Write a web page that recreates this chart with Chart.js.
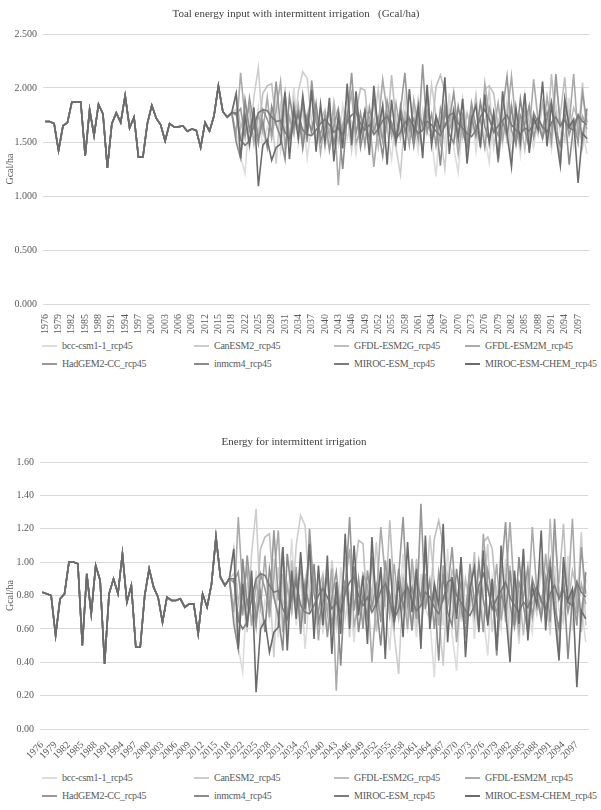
<!DOCTYPE html>
<html>
<head>
<meta charset="utf-8">
<script src="https://cdn.jsdelivr.net/npm/chart.js@4.4.1/dist/chart.umd.min.js"></script>
<style>
  body { margin: 0; background: #fff; width: 601px; height: 810px; position: relative; overflow: hidden; font-family: "Liberation Serif", serif; }
  .box { position: absolute; left: 0; width: 601px; }
  .legend { position: absolute; left: 0; width: 601px; height: 40px; font-size: 10px; color: #595959; letter-spacing: -0.25px; }
  .legend .item { position: absolute; white-space: nowrap; line-height: 12px; }
  .legend .item i { display: inline-block; width: 15px; height: 2px; vertical-align: middle; margin-right: 5px; margin-top: -2px; }
</style>
</head>
<body>
<div class="box" style="top:0;height:338px"><canvas id="totalChart"></canvas></div>
<div class="legend" id="totalLegend" style="top:340px"></div>
<div class="box" style="top:428px;height:337px"><canvas id="irrChart"></canvas></div>
<div class="legend" id="irrLegend" style="top:772px"></div>
<script>
// years: 1976-2018 observed, then 2020-2099 projections
const years = []
for (let y = 1976; y <= 2018; y++) years.push(String(y))
for (let y = 2020; y <= 2099; y++) years.push(String(y))

const models = ['bcc-csm1-1_rcp45', 'CanESM2_rcp45', 'GFDL-ESM2G_rcp45', 'GFDL-ESM2M_rcp45',
    'HadGEM2-CC_rcp45', 'inmcm4_rcp45', 'MIROC-ESM_rcp45', 'MIROC-ESM-CHEM_rcp45']
const colors = ['#dcdcdc', '#cdcdcd', '#bebebe', '#aaaaaa', '#989898', '#8a8a8a', '#7b7b7b', '#6b6b6b']

// start: total energy (Gcal/ha)
const histTotal = [1.69, 1.69, 1.67, 1.42, 1.65, 1.68, 1.87, 1.87, 1.87, 1.37,
    1.80, 1.56, 1.85, 1.76, 1.26, 1.67, 1.77, 1.68, 1.93, 1.63,
    1.73, 1.36, 1.36, 1.67, 1.84, 1.72, 1.66, 1.51, 1.67, 1.64,
    1.64, 1.65, 1.60, 1.62, 1.61, 1.45, 1.68, 1.60, 1.74, 2.02,
    1.78, 1.73, 1.77]
const bccTotal = [1.59, 1.36, 1.21, 1.75, 1.48, 1.82, 1.45, 1.64, 1.53, 1.89,
    1.42, 1.71, 1.57, 2.01, 1.49, 1.78, 1.35, 1.66, 1.55, 1.80,
    1.44, 1.73, 1.61, 1.47, 1.84, 1.53, 1.68, 1.39, 1.76, 1.58,
    1.51, 1.86, 1.45, 1.70, 1.60, 1.34, 1.75, 1.56, 1.92, 1.48,
    1.66, 1.42, 1.80, 1.59, 1.53, 1.18, 1.72, 1.49, 1.95, 1.44,
    1.22, 1.69, 1.57, 1.83, 1.41, 1.74, 1.55, 1.31, 1.78, 1.63,
    1.47, 1.89, 1.52, 1.70, 1.38, 1.81, 1.60, 1.45, 1.76, 1.54,
    1.67, 1.43, 1.85, 1.58, 1.50, 1.91, 1.46, 1.73, 1.61, 1.39]
const canTotal = [1.80, 1.53, 1.68, 1.45, 1.92, 2.19, 1.58, 1.49, 1.75, 1.30,
    1.84, 1.61, 1.72, 1.56, 1.97, 2.15, 2.09, 1.67, 1.50, 1.79,
    1.58, 1.45, 1.88, 1.64, 1.53, 1.76, 1.42, 1.85, 1.60, 1.71,
    1.49, 1.66, 1.99, 1.55, 1.78, 1.62, 1.44, 1.20, 1.73, 1.57,
    1.83, 1.50, 1.68, 1.61, 2.03, 1.75, 1.56, 1.25, 1.79, 1.64,
    1.48, 1.90, 1.59, 1.72, 1.53, 1.83, 1.66, 1.98, 1.45, 1.71,
    1.58, 1.80, 1.32, 1.74, 1.63, 1.94, 1.51, 1.68, 1.56, 1.86,
    1.60, 1.47, 2.06, 1.69, 1.53, 1.80, 1.64, 1.57, 2.05, 1.49]
const gfdlgTotal = [1.95, 1.62, 1.79, 1.50, 1.73, 1.58, 1.95, 2.02, 2.04, 1.67,
    1.53, 1.80, 1.45, 1.88, 1.64, 1.56, 1.75, 1.92, 1.48, 1.69,
    1.80, 1.59, 1.72, 1.51, 1.66, 1.90, 1.55, 1.77, 2.00, 1.98,
    1.57, 1.71, 1.46, 1.83, 1.60, 2.12, 1.68, 1.53, 1.78, 1.64,
    1.50, 1.89, 1.61, 1.73, 1.56, 2.01, 2.12, 1.97, 1.66, 1.82,
    1.71, 1.54, 1.77, 1.60, 1.93, 1.48, 1.99, 2.02, 1.95, 1.63,
    1.76, 1.51, 1.85, 1.57, 1.72, 1.43, 1.79, 1.62, 1.68, 1.87,
    1.53, 2.13, 1.66, 1.75, 2.10, 1.58, 1.82, 1.71, 1.45, 1.77]
const gfdlmTotal = [1.57, 2.14, 1.71, 1.82, 1.49, 1.75, 1.60, 1.91, 1.54, 1.79,
    2.06, 1.45, 1.73, 1.58, 1.84, 1.51, 1.69, 1.62, 1.77, 1.40,
    1.72, 1.56, 1.83, 1.10, 1.65, 1.75, 1.95, 1.49, 1.61, 1.80,
    1.73, 1.27, 1.65, 2.08, 1.78, 1.55, 1.86, 1.59, 1.71, 1.47,
    1.89, 1.64, 1.42, 1.80, 1.57, 1.72, 1.49, 1.85, 1.61, 1.75,
    1.39, 1.68, 1.56, 1.81, 1.65, 1.47, 2.04, 1.73, 1.60, 1.86,
    1.52, 1.74, 2.11, 1.66, 1.45, 1.78, 1.59, 2.08, 1.70, 1.55,
    1.92, 1.63, 1.76, 1.30, 1.84, 1.67, 2.13, 1.56, 1.74, 1.62]
const hadTotal = [1.75, 1.81, 1.55, 1.91, 1.66, 1.48, 1.80, 1.71, 1.59, 2.06,
    1.64, 1.96, 1.53, 1.76, 1.62, 1.85, 1.50, 2.07, 1.68, 1.57,
    1.75, 1.42, 1.66, 1.81, 1.54, 1.69, 2.14, 1.58, 1.77, 1.47,
    1.82, 1.60, 1.73, 1.51, 1.88, 1.65, 1.56, 1.79, 2.14, 1.61,
    1.72, 1.53, 2.22, 1.59, 1.76, 1.47, 1.81, 1.64, 1.70, 1.96,
    1.58, 1.75, 1.50, 1.86, 1.63, 1.71, 1.45, 1.82, 1.67, 1.56,
    1.80, 2.11, 1.61, 1.48, 1.75, 1.66, 1.84, 1.54, 1.72, 1.63,
    1.78, 1.51, 2.13, 1.65, 1.74, 1.57, 1.70, 1.49, 1.96, 1.68]
const inmTotal = [1.50, 1.35, 1.89, 1.61, 1.77, 1.53, 1.69, 1.45, 1.83, 1.66,
    1.55, 1.34, 1.92, 1.67, 1.78, 1.44, 1.74, 1.59, 1.86, 1.51,
    1.63, 1.79, 1.48, 1.70, 1.25, 1.76, 1.57, 1.84, 1.45, 1.67,
    1.54, 1.91, 1.62, 1.37, 1.75, 1.68, 1.49, 1.83, 1.60, 1.72,
    1.46, 1.77, 1.65, 1.93, 1.52, 1.70, 1.28, 1.80, 1.57, 1.49,
    1.83, 1.61, 1.44, 1.73, 1.56, 1.87, 1.64, 1.51, 1.76, 1.31,
    1.69, 1.57, 1.82, 1.49, 1.90, 1.61, 1.45, 1.77, 1.67, 1.53,
    1.72, 1.88, 1.60, 1.47, 1.79, 1.29, 1.66, 1.75, 1.54, 1.81]
const mirocTotal = [1.77, 1.52, 1.47, 1.51, 1.65, 1.77, 1.80, 1.79, 1.73, 1.69,
    1.70, 1.59, 1.53, 1.65, 1.75, 1.61, 1.57, 1.56, 1.61, 1.67,
    1.71, 1.66, 1.59, 1.63, 1.57, 1.69, 1.75, 1.78, 1.67, 1.61,
    1.66, 1.57, 1.62, 1.70, 1.74, 1.63, 1.53, 1.59, 1.68, 1.72,
    1.64, 1.58, 1.61, 1.69, 1.66, 1.60, 1.56, 1.65, 1.75, 1.77,
    1.67, 1.63, 1.58, 1.55, 1.61, 1.73, 1.80, 1.71, 1.59, 1.65,
    1.70, 1.75, 1.66, 1.61, 1.57, 1.63, 1.60, 1.67, 1.72, 1.64,
    1.59, 1.68, 1.73, 1.65, 1.70, 1.63, 1.61, 1.75, 1.69, 1.66]
const chemTotal = [1.95, 1.35, 1.74, 1.48, 1.82, 1.09, 1.47, 1.52, 1.33, 1.45,
    1.48, 1.96, 1.34, 1.82, 1.53, 1.93, 1.59, 1.98, 1.41, 1.85,
    1.49, 1.91, 1.32, 1.75, 1.44, 2.04, 1.47, 1.97, 1.55, 1.79,
    1.38, 2.02, 1.60, 1.84, 1.29, 1.89, 1.51, 1.76, 1.42, 1.99,
    1.57, 1.83, 1.35, 2.03, 1.47, 1.74, 1.61, 2.10, 1.39, 1.78,
    1.53, 1.90, 1.30, 1.71, 1.84, 1.45, 1.94, 1.49, 1.77, 1.34,
    1.97, 1.58, 1.27, 1.82, 1.50, 1.95, 1.40, 1.73, 1.61, 2.06,
    1.46, 1.84, 1.56, 1.28, 1.90, 1.64, 1.71, 1.12, 1.58, 1.53]
// end: total energy

// start: irrigation energy (Gcal/ha)
const histIrr = [0.82, 0.81, 0.80, 0.56, 0.78, 0.81, 1.00, 1.00, 0.99, 0.50,
    0.93, 0.69, 0.98, 0.89, 0.39, 0.81, 0.90, 0.81, 1.05, 0.76,
    0.86, 0.49, 0.49, 0.80, 0.96, 0.85, 0.79, 0.64, 0.79, 0.77,
    0.77, 0.78, 0.73, 0.75, 0.75, 0.57, 0.81, 0.73, 0.87, 1.15,
    0.91, 0.86, 0.90]
const bccIrr = [0.72, 0.49, 0.34, 0.88, 0.61, 0.95, 0.58, 0.77, 0.66, 1.02,
    0.55, 0.84, 0.70, 1.14, 0.62, 0.91, 0.48, 0.79, 0.68, 0.93,
    0.57, 0.86, 0.74, 0.60, 0.97, 0.66, 0.81, 0.52, 0.89, 0.71,
    0.64, 0.99, 0.58, 0.83, 0.73, 0.47, 0.88, 0.69, 1.05, 0.61,
    0.79, 0.55, 0.93, 0.72, 0.66, 0.31, 0.85, 0.62, 1.08, 0.57,
    0.35, 0.82, 0.70, 0.96, 0.54, 0.87, 0.68, 0.44, 0.91, 0.76,
    0.60, 1.02, 0.65, 0.83, 0.51, 0.94, 0.73, 0.58, 0.89, 0.67,
    0.80, 0.56, 0.98, 0.71, 0.63, 1.04, 0.59, 0.86, 0.74, 0.52]
const canIrr = [0.93, 0.66, 0.81, 0.58, 1.05, 1.32, 0.71, 0.62, 0.88, 0.43,
    0.97, 0.74, 0.85, 0.69, 1.10, 1.28, 1.22, 0.80, 0.63, 0.92,
    0.71, 0.58, 1.01, 0.77, 0.66, 0.89, 0.55, 0.98, 0.73, 0.84,
    0.62, 0.79, 1.12, 0.68, 0.91, 0.75, 0.57, 0.33, 0.86, 0.70,
    0.96, 0.63, 0.81, 0.74, 1.16, 0.88, 0.69, 0.38, 0.92, 0.77,
    0.61, 1.03, 0.72, 0.85, 0.66, 0.96, 0.79, 1.11, 0.58, 0.84,
    0.71, 0.93, 0.45, 0.87, 0.76, 1.07, 0.64, 0.81, 0.69, 0.99,
    0.73, 0.60, 1.19, 0.82, 0.66, 0.93, 0.77, 0.70, 1.18, 0.62]
const gfdlgIrr = [1.08, 0.75, 0.92, 0.63, 0.86, 0.71, 1.08, 1.15, 1.17, 0.80,
    0.66, 0.93, 0.58, 1.01, 0.77, 0.69, 0.88, 1.05, 0.61, 0.82,
    0.93, 0.72, 0.85, 0.64, 0.79, 1.03, 0.68, 0.90, 1.13, 1.11,
    0.70, 0.84, 0.59, 0.96, 0.73, 1.25, 0.81, 0.66, 0.91, 0.77,
    0.63, 1.02, 0.74, 0.86, 0.69, 1.14, 1.25, 1.10, 0.79, 0.95,
    0.84, 0.67, 0.90, 0.73, 1.06, 0.61, 1.12, 1.15, 1.08, 0.76,
    0.89, 0.64, 0.98, 0.70, 0.85, 0.56, 0.92, 0.75, 0.81, 1.00,
    0.66, 1.26, 0.79, 0.88, 1.23, 0.71, 0.95, 0.84, 0.58, 0.90]
const gfdlmIrr = [0.70, 1.27, 0.84, 0.95, 0.62, 0.88, 0.73, 1.04, 0.67, 0.92,
    1.19, 0.58, 0.86, 0.71, 0.97, 0.64, 0.82, 0.75, 0.90, 0.53,
    0.85, 0.69, 0.96, 0.23, 0.78, 0.88, 1.08, 0.62, 0.74, 0.93,
    0.86, 0.40, 0.78, 1.21, 0.91, 0.68, 0.99, 0.72, 0.84, 0.60,
    1.02, 0.77, 0.55, 0.93, 0.70, 0.85, 0.62, 0.98, 0.74, 0.88,
    0.52, 0.81, 0.69, 0.94, 0.78, 0.60, 1.17, 0.86, 0.73, 0.99,
    0.65, 0.87, 1.24, 0.79, 0.58, 0.91, 0.72, 1.21, 0.83, 0.68,
    1.05, 0.76, 0.89, 0.43, 0.97, 0.80, 1.26, 0.69, 0.87, 0.75]
const hadIrr = [0.88, 0.94, 0.68, 1.04, 0.79, 0.61, 0.93, 0.84, 0.72, 1.19,
    0.77, 1.09, 0.66, 0.89, 0.75, 0.98, 0.63, 1.20, 0.81, 0.70,
    0.88, 0.55, 0.79, 0.94, 0.67, 0.82, 1.27, 0.71, 0.90, 0.60,
    0.95, 0.73, 0.86, 0.64, 1.01, 0.78, 0.69, 0.92, 1.27, 0.74,
    0.85, 0.66, 1.35, 0.72, 0.89, 0.60, 0.94, 0.77, 0.83, 1.09,
    0.71, 0.88, 0.63, 0.99, 0.76, 0.84, 0.58, 0.95, 0.80, 0.69,
    0.93, 1.24, 0.74, 0.61, 0.88, 0.79, 0.97, 0.67, 0.85, 0.76,
    0.91, 0.64, 1.26, 0.78, 0.87, 0.70, 0.83, 0.62, 1.09, 0.81]
const inmIrr = [0.63, 0.48, 1.02, 0.74, 0.90, 0.66, 0.82, 0.58, 0.96, 0.79,
    0.68, 0.47, 1.05, 0.80, 0.91, 0.57, 0.87, 0.72, 0.99, 0.64,
    0.76, 0.92, 0.61, 0.83, 0.38, 0.89, 0.70, 0.97, 0.58, 0.80,
    0.67, 1.04, 0.75, 0.50, 0.88, 0.81, 0.62, 0.96, 0.73, 0.85,
    0.59, 0.90, 0.78, 1.06, 0.65, 0.83, 0.41, 0.93, 0.70, 0.62,
    0.96, 0.74, 0.57, 0.86, 0.69, 1.00, 0.77, 0.64, 0.89, 0.44,
    0.82, 0.70, 0.95, 0.62, 1.03, 0.74, 0.58, 0.90, 0.80, 0.66,
    0.85, 1.01, 0.73, 0.60, 0.92, 0.42, 0.79, 0.88, 0.67, 0.94]
const mirocIrr = [0.90, 0.65, 0.60, 0.64, 0.78, 0.90, 0.93, 0.92, 0.86, 0.82,
    0.83, 0.72, 0.66, 0.78, 0.88, 0.74, 0.70, 0.69, 0.74, 0.80,
    0.84, 0.79, 0.72, 0.76, 0.70, 0.82, 0.88, 0.91, 0.80, 0.74,
    0.79, 0.70, 0.75, 0.83, 0.87, 0.76, 0.66, 0.72, 0.81, 0.85,
    0.77, 0.71, 0.74, 0.82, 0.79, 0.73, 0.69, 0.78, 0.88, 0.90,
    0.80, 0.76, 0.71, 0.68, 0.74, 0.86, 0.93, 0.84, 0.72, 0.78,
    0.83, 0.88, 0.79, 0.74, 0.70, 0.76, 0.73, 0.80, 0.85, 0.77,
    0.72, 0.81, 0.86, 0.78, 0.83, 0.76, 0.74, 0.88, 0.82, 0.79]
const chemIrr = [1.08, 0.48, 0.87, 0.61, 0.95, 0.22, 0.60, 0.65, 0.46, 0.58,
    0.61, 1.09, 0.47, 0.95, 0.66, 1.06, 0.72, 1.11, 0.54, 0.98,
    0.62, 1.04, 0.45, 0.88, 0.57, 1.17, 0.60, 1.10, 0.68, 0.92,
    0.51, 1.15, 0.73, 0.97, 0.42, 1.02, 0.64, 0.89, 0.55, 1.12,
    0.70, 0.96, 0.48, 1.16, 0.60, 0.87, 0.74, 1.23, 0.52, 0.91,
    0.66, 1.03, 0.43, 0.84, 0.97, 0.58, 1.07, 0.62, 0.90, 0.47,
    1.10, 0.71, 0.40, 0.95, 0.63, 1.08, 0.53, 0.86, 0.74, 1.19,
    0.59, 0.97, 0.69, 0.41, 1.03, 0.77, 0.84, 0.25, 0.71, 0.66]
// end: irrigation energy

const totalSeries = [bccTotal, canTotal, gfdlgTotal, gfdlmTotal, hadTotal, inmTotal, mirocTotal, chemTotal]
const irrSeries = [bccIrr, canIrr, gfdlgIrr, gfdlmIrr, hadIrr, inmIrr, mirocIrr, chemIrr]

const FONT = 'Liberation Serif'
const TEXT = '#595959'

function buildDatasets(hist, series) {
    return series.map(function (proj, i) {
        return {
            label: models[i],
            data: hist.concat(proj),
            borderColor: colors[i],
            backgroundColor: colors[i],
            borderWidth: 1.6,
            pointRadius: 0,
            tension: 0,
            order: series.length - i   // later series on top, like the original
        }
    })
}

function makeChart(id, title, datasets, opt) {
    const ctx = document.getElementById(id).getContext('2d')
    return new Chart(ctx, {
        type: 'line',
        data: { labels: years, datasets: datasets },
        options: {
            responsive: true,
            maintainAspectRatio: false,
            animation: false,
            layout: { padding: { left: 0, right: opt.right, top: 0, bottom: 0 } },
            plugins: {
                legend: { display: false },
                tooltip: { enabled: false },
                title: {
                    display: true,
                    text: title,
                    color: '#404040',
                    font: { family: FONT, size: 11, weight: 'normal' },
                    padding: { top: 8, bottom: 12.8 }
                }
            },
            scales: {
                x: {
                    offset: true,
                    grid: { display: false },
                    border: { color: '#d9d9d9' },
                    ticks: {
                        autoSkip: false,
                        minRotation: opt.rotation,
                        maxRotation: opt.rotation,
                        padding: 2,
                        color: TEXT,
                        font: { family: FONT, size: 10 },
                        callback: function (val, idx) {
                            return idx % 3 === 0 ? this.getLabelForValue(val) : ''
                        }
                    },
                    afterFit: function (s) { s.height = opt.xHeight }
                },
                y: {
                    min: 0,
                    max: opt.max,
                    grid: { color: '#d9d9d9', drawTicks: false },
                    border: { display: false },
                    title: {
                        display: true,
                        text: 'Gcal/ha',
                        color: TEXT,
                        font: { family: FONT, size: 10 },
                        padding: { top: 4, bottom: 0 }
                    },
                    ticks: {
                        stepSize: opt.step,
                        padding: 6,
                        color: TEXT,
                        font: { family: FONT, size: 10 },
                        callback: function (v) { return v.toFixed(opt.decimals) }
                    },
                    afterFit: function (s) { s.width = opt.yWidth }
                }
            }
        }
    })
}

function buildLegend(el, cols) {
    models.forEach(function (name, i) {
        const item = document.createElement('div')
        item.className = 'item'
        item.style.left = cols[i % 4] + 'px'
        item.style.top = (i < 4 ? 0 : 18) + 'px'
        item.innerHTML = '<i style="background:' + colors[i] + '"></i>' + name
        el.appendChild(item)
    })
}

makeChart('totalChart', 'Toal energy input with intermittent irrigation   (Gcal/ha)',
    buildDatasets(histTotal, totalSeries),
    { max: 2.5, step: 0.5, decimals: 3, rotation: 90, xHeight: 34, yWidth: 43, right: 9 })

makeChart('irrChart', 'Energy for intermittent irrigation',
    buildDatasets(histIrr, irrSeries),
    { max: 1.6, step: 0.2, decimals: 2, rotation: 45, xHeight: 36, yWidth: 40, right: 13 })

buildLegend(document.getElementById('totalLegend'), [42, 194, 334, 465])
buildLegend(document.getElementById('irrLegend'), [42, 194, 334, 465])
</script>
</body>
</html>
